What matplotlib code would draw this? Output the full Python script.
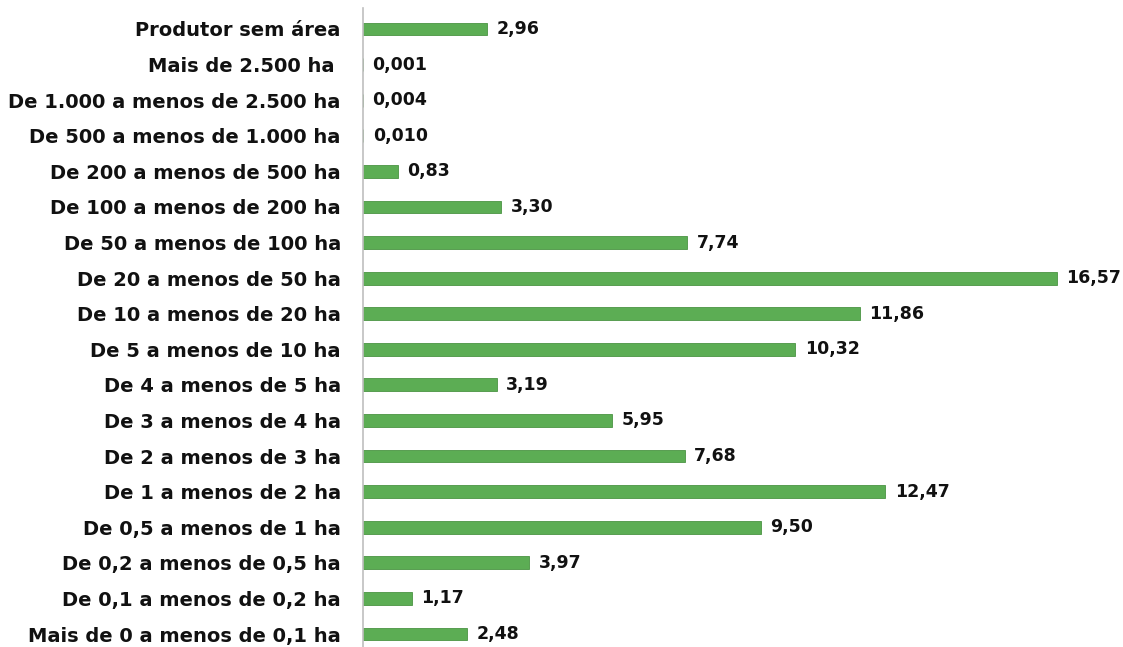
import numpy as np
import matplotlib.pyplot as plt

categories = [
    "Mais de 0 a menos de 0,1 ha",
    "De 0,1 a menos de 0,2 ha",
    "De 0,2 a menos de 0,5 ha",
    "De 0,5 a menos de 1 ha",
    "De 1 a menos de 2 ha",
    "De 2 a menos de 3 ha",
    "De 3 a menos de 4 ha",
    "De 4 a menos de 5 ha",
    "De 5 a menos de 10 ha",
    "De 10 a menos de 20 ha",
    "De 20 a menos de 50 ha",
    "De 50 a menos de 100 ha",
    "De 100 a menos de 200 ha",
    "De 200 a menos de 500 ha",
    "De 500 a menos de 1.000 ha",
    "De 1.000 a menos de 2.500 ha",
    "Mais de 2.500 ha ",
    "Produtor sem área",
]
values = [2.48, 1.17, 3.97, 9.50, 12.47, 7.68, 5.95, 3.19, 10.32, 11.86,
          16.57, 7.74, 3.30, 0.83, 0.010, 0.004, 0.001, 2.96]


def fmt(v):
    s = f"{v:.2f}" if v >= 0.1 else f"{v:.3f}"
    return s.replace(".", ",")


plt.rcParams['font.family'] = ['DejaVu Sans']
fig = plt.figure(figsize=(11.23, 6.47), dpi=100)
ax = fig.add_axes([363 / 1123, 0, 1 - 363 / 1123, 639 / 647])

y = np.arange(len(categories))
ax.barh(y, values, height=0.36, color="#5cad54", edgecolor="#4a9443",
        linewidth=0.6)

for yi, v in zip(y, values):
    ax.text(v + 0.22, yi, fmt(v), va="center", ha="left",
            fontsize=12.5, fontweight="bold", color="#111111")

ax.set_yticks(y)
ax.set_yticklabels(categories, fontsize=14, fontweight="bold", color="#111111")
ax.tick_params(axis="y", length=0, pad=16)
ax.set_xticks([])
ax.set_xlim(0, 760 / 41.9)
ax.set_ylim(-0.365, 17.59)

for side in ["top", "right", "bottom"]:
    ax.spines[side].set_visible(False)
ax.spines["left"].set_color("#bfbfbf")
ax.spines["left"].set_linewidth(1.2)

fig.savefig("out.png", dpi=100)
